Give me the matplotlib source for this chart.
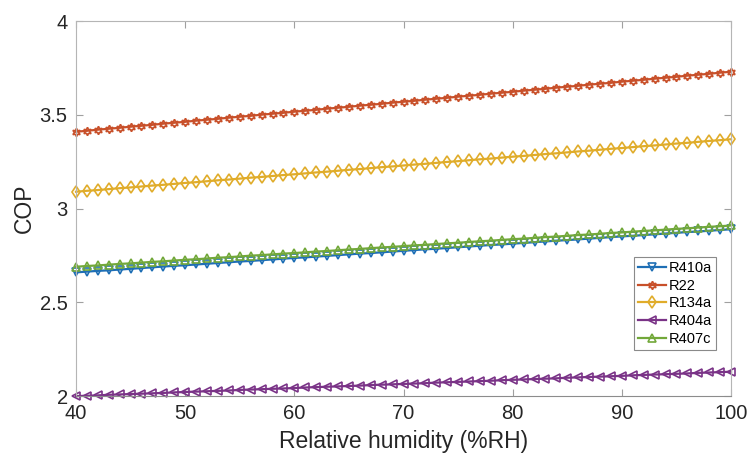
import numpy as np
import matplotlib
matplotlib.use("Agg")
import matplotlib.pyplot as plt

plt.rcParams['font.family'] = ['Liberation Sans', 'DejaVu Sans']

# relative humidity, one point per %RH
rh = list(range(40, 101))

# COP
cop_r410a = [2.660, 2.664, 2.668, 2.671, 2.675, 2.679, 2.683, 2.687, 2.691, 2.695,
             2.698, 2.702, 2.706, 2.710, 2.714, 2.718, 2.721, 2.725, 2.729, 2.733,
             2.737, 2.740, 2.744, 2.748, 2.752, 2.756, 2.760, 2.763, 2.767, 2.771,
             2.775, 2.779, 2.783, 2.786, 2.790, 2.794, 2.798, 2.802, 2.806, 2.809,
             2.813, 2.817, 2.821, 2.825, 2.829, 2.832, 2.836, 2.840, 2.844, 2.848,
             2.852, 2.855, 2.859, 2.863, 2.867, 2.871, 2.875, 2.878, 2.882, 2.886,
             2.890]
cop_r22 = [3.410, 3.415, 3.421, 3.426, 3.431, 3.437, 3.442, 3.447, 3.453, 3.458,
           3.463, 3.469, 3.474, 3.479, 3.485, 3.490, 3.495, 3.501, 3.506, 3.511,
           3.517, 3.522, 3.527, 3.533, 3.538, 3.543, 3.549, 3.554, 3.559, 3.565,
           3.570, 3.575, 3.581, 3.586, 3.591, 3.597, 3.602, 3.607, 3.613, 3.618,
           3.623, 3.629, 3.634, 3.639, 3.645, 3.650, 3.655, 3.661, 3.666, 3.671,
           3.677, 3.682, 3.687, 3.693, 3.698, 3.703, 3.709, 3.714, 3.719, 3.725,
           3.730]
cop_r134a = [3.090, 3.095, 3.099, 3.104, 3.109, 3.113, 3.118, 3.123, 3.127, 3.132,
             3.137, 3.141, 3.146, 3.151, 3.155, 3.160, 3.165, 3.169, 3.174, 3.179,
             3.183, 3.188, 3.193, 3.197, 3.202, 3.207, 3.211, 3.216, 3.221, 3.225,
             3.230, 3.235, 3.239, 3.244, 3.249, 3.253, 3.258, 3.263, 3.267, 3.272,
             3.277, 3.281, 3.286, 3.291, 3.295, 3.300, 3.305, 3.309, 3.314, 3.319,
             3.323, 3.328, 3.333, 3.337, 3.342, 3.347, 3.351, 3.356, 3.361, 3.365,
             3.370]
cop_r404a = [2.000, 2.002, 2.004, 2.007, 2.009, 2.011, 2.013, 2.015, 2.017, 2.020,
             2.022, 2.024, 2.026, 2.028, 2.030, 2.033, 2.035, 2.037, 2.039, 2.041,
             2.043, 2.046, 2.048, 2.050, 2.052, 2.054, 2.056, 2.059, 2.061, 2.063,
             2.065, 2.067, 2.069, 2.072, 2.074, 2.076, 2.078, 2.080, 2.082, 2.085,
             2.087, 2.089, 2.091, 2.093, 2.095, 2.098, 2.100, 2.102, 2.104, 2.106,
             2.108, 2.111, 2.113, 2.115, 2.117, 2.119, 2.121, 2.124, 2.126, 2.128,
             2.130]
cop_r407c = [2.690, 2.694, 2.697, 2.701, 2.705, 2.708, 2.712, 2.716, 2.719, 2.723,
             2.727, 2.730, 2.734, 2.738, 2.741, 2.745, 2.749, 2.752, 2.756, 2.760,
             2.763, 2.767, 2.771, 2.774, 2.778, 2.782, 2.785, 2.789, 2.793, 2.796,
             2.800, 2.804, 2.807, 2.811, 2.815, 2.818, 2.822, 2.826, 2.829, 2.833,
             2.837, 2.840, 2.844, 2.848, 2.851, 2.855, 2.859, 2.862, 2.866, 2.870,
             2.873, 2.877, 2.881, 2.884, 2.888, 2.892, 2.895, 2.899, 2.903, 2.906,
             2.910]

series = [
    ("R410a", cop_r410a, "#1f6fb5", "v"),
    ("R22", cop_r22, "#c8502a", (6, 1, 0)),
    ("R134a", cop_r134a, "#e0ac2a", "d"),
    ("R404a", cop_r404a, "#7a3387", "<"),
    ("R407c", cop_r407c, "#72a83a", "^"),
]

fig = plt.figure(figsize=(7.48, 4.59), dpi=100)
ax = fig.add_axes([0.1016, 0.137, 0.8757, 0.817])

for name, vals, col, mk in series:
    ax.plot(rh, vals, color=col, marker=mk, markersize=6, markerfacecolor="none",
            markeredgewidth=1.2, linewidth=1.6, label=name, clip_on=False)

ax.set_xlim(40, 100)
ax.set_ylim(2, 4)
ax.set_xticks([40, 50, 60, 70, 80, 90, 100])
ax.set_yticks([2, 2.5, 3, 3.5, 4])
ax.set_yticklabels(["2", "2.5", "3", "3.5", "4"])

for sp in ax.spines.values():
    sp.set_color("#b5b5b5")
    sp.set_linewidth(0.8)
ax.spines["bottom"].set_color("#8c8c8c")

ax.tick_params(direction="in", length=5, width=0.8, color="#a0a0a0",
               labelsize=14.5, labelcolor="#262626", top=True, right=True, pad=6)

ax.set_xlabel("Relative humidity (%RH)", fontsize=16.5, color="#262626", labelpad=5)
ax.set_ylabel("COP", fontsize=16.5, color="#262626", labelpad=3)

leg = ax.legend(loc="lower left", bbox_to_anchor=(0.852, 0.123, 0.117, 0.258),
                fontsize=10.5, frameon=True, fancybox=False, framealpha=1,
                handlelength=1.9, handletextpad=0.15, labelspacing=0.25,
                borderpad=0.3, borderaxespad=0)
leg.get_frame().set_edgecolor("#8a8a8a")
leg.get_frame().set_linewidth(0.8)

fig.savefig("out.png", dpi=100)
